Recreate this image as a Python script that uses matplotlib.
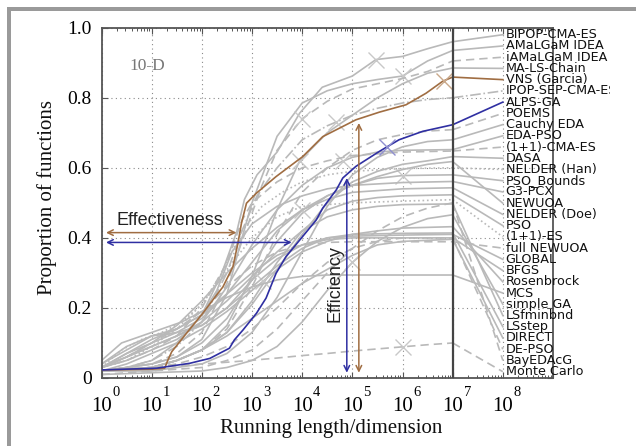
import numpy as np
import matplotlib
matplotlib.use("Agg")
import matplotlib.pyplot as plt
import matplotlib.transforms as mtransforms
from matplotlib.patches import Rectangle
from matplotlib.ticker import FixedLocator, NullFormatter

# ---------------- data (x given as log10 of running length / dimension) ----------------
bipop_x = [0, 0.5, 1.0, 1.5, 2.0, 2.4, 2.7, 2.85, 3.1, 3.5, 3.95, 4.4, 5.0, 5.47, 6.0, 6.5, 7.0]
bipop_y = [0.02, 0.03, 0.05, 0.10, 0.18, 0.30, 0.42, 0.51, 0.58, 0.645, 0.756, 0.83, 0.862, 0.909, 0.918, 0.94, 0.96]
amalgam_x = [0, 0.5, 1, 1.5, 2, 2.5, 2.8, 3.0, 3.5, 4.0, 4.5, 5.0, 5.5, 6.0, 6.5, 7.0]
amalgam_y = [0.02, 0.03, 0.04, 0.06, 0.11, 0.24, 0.40, 0.50, 0.69, 0.785, 0.82, 0.84, 0.852, 0.862, 0.905, 0.935]
iamalgam_x = [0, 0.5, 1, 1.5, 2, 2.5, 2.9, 3.2, 3.5, 4.0, 4.5, 5.0, 5.5, 6.0, 6.5, 7.0]
iamalgam_y = [0.02, 0.03, 0.04, 0.07, 0.13, 0.27, 0.43, 0.55, 0.65, 0.74, 0.79, 0.825, 0.84, 0.855, 0.875, 0.905]
malschain_x = [0, 1, 1.5, 2, 2.5, 3.0, 3.5, 3.95, 4.5, 5.0, 5.5, 6.0, 6.5, 7.0]
malschain_y = [0.02, 0.03, 0.05, 0.08, 0.15, 0.29, 0.48, 0.62, 0.70, 0.75, 0.80, 0.84, 0.87, 0.885]
vns_x = [0, 1.0, 1.26, 1.32, 1.40, 1.69, 2.02, 2.22, 2.42, 2.62, 2.72, 2.79, 2.89, 3.09, 3.48, 4.01, 4.41, 5.07, 5.54, 6.07, 6.47, 6.80, 7.0]
vns_y = [0.023, 0.025, 0.028, 0.05, 0.075, 0.127, 0.185, 0.223, 0.26, 0.318, 0.385, 0.442, 0.499, 0.528, 0.575, 0.632, 0.689, 0.737, 0.759, 0.78, 0.813, 0.847, 0.859]
ipopsep_x = [0, 0.5, 1, 1.5, 2, 2.5, 2.8, 3.1, 3.5, 4, 4.5, 5, 5.5, 6, 6.5, 7]
ipopsep_y = [0.02, 0.03, 0.05, 0.09, 0.16, 0.30, 0.42, 0.52, 0.60, 0.68, 0.72, 0.75, 0.77, 0.785, 0.795, 0.80]
alps_x = [0, 1.10, 1.76, 2.16, 2.55, 2.65, 2.82, 3.09, 3.28, 3.48, 3.68, 4.01, 4.28, 4.41, 4.68, 4.81, 5.07, 5.54, 5.93, 6.40, 7.0]
alps_y = [0.023, 0.028, 0.042, 0.056, 0.085, 0.109, 0.137, 0.185, 0.228, 0.299, 0.347, 0.404, 0.451, 0.485, 0.537, 0.571, 0.604, 0.647, 0.68, 0.704, 0.723]
poems_x = [0, 1, 1.5, 2, 2.5, 3, 3.5, 4, 4.5, 5, 5.5, 6, 6.5, 7]
poems_y = [0.02, 0.03, 0.05, 0.08, 0.14, 0.26, 0.41, 0.53, 0.60, 0.65, 0.68, 0.695, 0.705, 0.709]
cauchy_x = [0, 1, 2, 2.5, 3, 3.5, 4, 4.5, 5, 5.5, 6, 6.5, 7]
cauchy_y = [0.02, 0.02, 0.04, 0.07, 0.13, 0.23, 0.36, 0.49, 0.58, 0.63, 0.66, 0.675, 0.68]
edapso_x = [0, 0.5, 1, 1.5, 2, 2.5, 3, 3.5, 4, 4.5, 5, 5.5, 6, 7]
edapso_y = [0.03, 0.05, 0.08, 0.11, 0.16, 0.26, 0.38, 0.48, 0.55, 0.60, 0.63, 0.645, 0.65, 0.652]
cma11_x = [0, 0.5, 1, 1.5, 2, 2.5, 2.8, 3.0, 3.5, 4, 4.5, 5, 6, 7]
cma11_y = [0.03, 0.05, 0.08, 0.12, 0.20, 0.33, 0.45, 0.50, 0.56, 0.60, 0.62, 0.635, 0.645, 0.648]
dasa_x = [0, 1, 1.5, 2, 2.5, 3, 3.5, 4, 4.5, 5, 5.5, 6, 6.5, 7]
dasa_y = [0.02, 0.03, 0.05, 0.08, 0.13, 0.21, 0.31, 0.41, 0.50, 0.56, 0.59, 0.61, 0.62, 0.632]
nelderhan_x = [0, 0.4, 0.8, 1.2, 1.6, 2.0, 2.4, 2.8, 3.2, 3.6, 4.0, 4.5, 5, 6, 7]
nelderhan_y = [0.03, 0.08, 0.11, 0.13, 0.16, 0.21, 0.30, 0.42, 0.49, 0.53, 0.56, 0.58, 0.59, 0.598, 0.60]
psobounds_x = [0, 1, 1.5, 2, 2.5, 3, 3.5, 4, 4.5, 5, 5.5, 6, 7]
psobounds_y = [0.02, 0.04, 0.06, 0.10, 0.17, 0.28, 0.39, 0.47, 0.52, 0.55, 0.57, 0.578, 0.58]
g3pcx_x = [0, 0.5, 1, 1.5, 2, 2.3, 2.6, 3, 3.5, 4, 4.5, 5, 6, 7]
g3pcx_y = [0.04, 0.09, 0.12, 0.14, 0.18, 0.25, 0.36, 0.44, 0.49, 0.52, 0.54, 0.55, 0.558, 0.561]
newuoa_x = [0, 0.5, 1, 1.5, 2, 2.5, 3, 3.5, 4, 4.5, 5, 5.5, 6, 6.5, 7]
newuoa_y = [0.03, 0.06, 0.10, 0.15, 0.22, 0.30, 0.37, 0.43, 0.48, 0.52, 0.55, 0.575, 0.595, 0.61, 0.618]
nelderdoe_x = [0, 0.5, 1, 1.5, 2, 2.5, 3, 3.5, 4, 4.5, 5, 6, 7]
nelderdoe_y = [0.03, 0.07, 0.10, 0.13, 0.17, 0.24, 0.33, 0.42, 0.48, 0.51, 0.53, 0.54, 0.543]
pso_x = [0, 1, 1.5, 2, 2.5, 3, 3.5, 4, 4.5, 5, 5.5, 6, 7]
pso_y = [0.02, 0.03, 0.05, 0.08, 0.13, 0.22, 0.33, 0.42, 0.48, 0.505, 0.515, 0.52, 0.523]
es11_x = [0, 0.5, 1, 1.5, 2, 2.5, 3, 3.5, 4, 5, 6, 7]
es11_y = [0.03, 0.05, 0.09, 0.14, 0.21, 0.31, 0.40, 0.46, 0.49, 0.50, 0.505, 0.509]
fullnewuoa_x = [0, 0.5, 1, 1.5, 2, 2.5, 3, 3.5, 4, 4.5, 5, 7]
fullnewuoa_y = [0.03, 0.06, 0.10, 0.14, 0.19, 0.26, 0.32, 0.36, 0.38, 0.387, 0.389, 0.389]
global_x = [0, 0.5, 1, 1.5, 2, 2.5, 3, 3.5, 4, 4.5, 5, 6, 7]
global_y = [0.04, 0.08, 0.12, 0.13, 0.15, 0.20, 0.28, 0.34, 0.38, 0.40, 0.405, 0.408, 0.41]
bfgs_x = [0, 0.5, 1, 1.5, 2, 2.5, 3, 3.5, 4, 4.5, 5, 7]
bfgs_y = [0.03, 0.07, 0.11, 0.14, 0.18, 0.24, 0.30, 0.35, 0.38, 0.395, 0.40, 0.40]
rosen_x = [0, 0.5, 1, 1.5, 2, 2.5, 3, 3.5, 4, 4.5, 5, 5.5, 6, 7]
rosen_y = [0.02, 0.04, 0.07, 0.10, 0.14, 0.19, 0.25, 0.31, 0.36, 0.39, 0.41, 0.42, 0.428, 0.432]
mcs_x = [0, 0.4, 0.8, 1.2, 1.6, 2, 2.5, 3, 3.5, 4, 4.5, 7]
mcs_y = [0.05, 0.10, 0.12, 0.14, 0.16, 0.19, 0.23, 0.26, 0.28, 0.29, 0.294, 0.294]
simplega_x = [0, 1, 2, 2.5, 3, 3.5, 4, 4.5, 5, 5.5, 6, 6.5, 7]
simplega_y = [0.01, 0.015, 0.02, 0.03, 0.05, 0.09, 0.16, 0.25, 0.33, 0.39, 0.43, 0.455, 0.466]
lsfmin_x = [0, 0.5, 1, 1.5, 2, 2.5, 3, 3.5, 4, 4.5, 5, 5.5, 6, 7]
lsfmin_y = [0.03, 0.06, 0.09, 0.12, 0.16, 0.22, 0.29, 0.36, 0.42, 0.46, 0.48, 0.49, 0.495, 0.497]
lsstep_x = [0, 0.5, 1, 1.5, 2, 2.5, 3, 3.5, 4, 4.5, 5, 6, 7]
lsstep_y = [0.03, 0.06, 0.09, 0.12, 0.15, 0.20, 0.26, 0.32, 0.37, 0.40, 0.41, 0.413, 0.414]
direct_x = [0, 1, 1.5, 2, 2.5, 3, 3.5, 4, 4.5, 5, 5.5, 6, 7]
direct_y = [0.02, 0.03, 0.05, 0.08, 0.12, 0.17, 0.22, 0.27, 0.31, 0.35, 0.38, 0.39, 0.396]
depso_x = [0, 1, 1.5, 2, 2.5, 3, 3.5, 4, 4.5, 5, 5.5, 6, 6.5, 7]
depso_y = [0.02, 0.03, 0.04, 0.06, 0.09, 0.14, 0.20, 0.27, 0.33, 0.37, 0.39, 0.40, 0.40, 0.40]
bayeda_x = [0, 1, 2, 2.5, 3, 3.5, 4, 4.5, 5, 5.5, 6, 6.5, 7]
bayeda_y = [0.01, 0.02, 0.03, 0.05, 0.08, 0.14, 0.22, 0.30, 0.37, 0.42, 0.46, 0.485, 0.50]
montecarlo_x = [0, 1, 2, 2.5, 2.95, 3.5, 4, 4.5, 5, 5.5, 6, 6.5, 7]
montecarlo_y = [0.02, 0.03, 0.04, 0.045, 0.05, 0.057, 0.064, 0.07, 0.077, 0.083, 0.089, 0.095, 0.10]

ALGORITHMS = ["BIPOP-CMA-ES", "AMaLGaM IDEA", "iAMaLGaM IDEA", "MA-LS-Chain", "VNS (Garcia)",
              "IPOP-SEP-CMA-ES", "ALPS-GA", "POEMS", "Cauchy EDA", "EDA-PSO", "(1+1)-CMA-ES",
              "DASA", "NELDER (Han)", "PSO_Bounds", "G3-PCX", "NEWUOA", "NELDER (Doe)", "PSO",
              "(1+1)-ES", "full NEWUOA", "GLOBAL", "BFGS", "Rosenbrock", "MCS", "simple GA",
              "LSfminbnd", "LSstep", "DIRECT", "DE-PSO", "BayEDAcG", "Monte Carlo"]
CURVES_X = [bipop_x, amalgam_x, iamalgam_x, malschain_x, vns_x, ipopsep_x, alps_x, poems_x,
            cauchy_x, edapso_x, cma11_x, dasa_x, nelderhan_x, psobounds_x, g3pcx_x, newuoa_x,
            nelderdoe_x, pso_x, es11_x, fullnewuoa_x, global_x, bfgs_x, rosen_x, mcs_x,
            simplega_x, lsfmin_x, lsstep_x, direct_x, depso_x, bayeda_x, montecarlo_x]
CURVES_Y = [bipop_y, amalgam_y, iamalgam_y, malschain_y, vns_y, ipopsep_y, alps_y, poems_y,
            cauchy_y, edapso_y, cma11_y, dasa_y, nelderhan_y, psobounds_y, g3pcx_y, newuoa_y,
            nelderdoe_y, pso_y, es11_y, fullnewuoa_y, global_y, bfgs_y, rosen_y, mcs_y,
            simplega_y, lsfmin_y, lsstep_y, direct_y, depso_y, bayeda_y, montecarlo_y]
# x (log10) of the cross marker on each curve (None = no marker)
MARKER_X = [5.47, 6.0, 4.0, 3.95, 6.83, 4.68, 5.70, None, None, 4.81, None, None, None, 6.0,
            None, 4.0, None, None, None, None, None, None, 3.22, None, 5.0, None, None, None,
            None, None, 6.0]
STYLES = ["-", "-", "--", "-", "-", "-.", "-", "--", "-", "-", "--", "-", ":", "-", "-", "-",
          "-", "-", ":", "--", "-", "-", "-", "-", "-", "-", "-", "-", "--", "--", "--"]
HIGHLIGHT = {"VNS (Garcia)": "#a06d42", "ALPS-GA": "#2f2fa2"}

LABEL_TOP, LABEL_BOTTOM = 0.98, 0.018
BUDGET_LOG = 7.0
XTICK_EXP = [0, 1, 2, 3, 4, 5, 6, 7, 8]
YTICKS = [0, 0.2, 0.4, 0.6, 0.8, 1.0]
YTICK_LABELS = ["0", "0.2", "0.4", "0.6", "0.8", "1.0"]

# annotation arrows (log10 x, y)
EFFECT_BROWN = (0.09, 2.69, 0.415)
EFFECT_BLUE = (0.09, 3.79, 0.387)
EFFIC_BLUE = (4.89, 0.015, 0.571)
EFFIC_BROWN = (5.13, 0.015, 0.728)

# ---------------- figure ----------------
W, H = 636, 446
fig = plt.figure(figsize=(W / 100, H / 100), dpi=100)
fig.patch.set_facecolor("white")
ax = fig.add_axes([101.5 / W, 68 / H, (553 - 101.5) / W, (378 - 27.7) / H])
ax.set_xscale("log")
ax.set_xlim(1, 1e9)
ax.set_ylim(0, 1)

SERIF = "Liberation Serif"
GREY = "#b9b9b9"
SPINE = "#555555"

ax.grid(True, which="major", linestyle=(0, (1, 3)), color="#8a8a8a", lw=0.8)
ax.set_axisbelow(True)

n = len(ALGORITHMS)
label_y = [LABEL_TOP - i * (LABEL_TOP - LABEL_BOTTOM) / (n - 1) for i in range(n)]
label_x_log = 8.0

order = [i for i in range(n) if ALGORITHMS[i] not in HIGHLIGHT] + \
        [i for i in range(n) if ALGORITHMS[i] in HIGHLIGHT]
for i in order:
    name = ALGORITHMS[i]
    col = HIGHLIGHT.get(name, GREY)
    lw = 1.2
    z = 3 if name in HIGHLIGHT else 2
    xs = 10 ** np.array(CURVES_X[i], dtype=float)
    ys = np.array(CURVES_Y[i], dtype=float)
    ls = STYLES[i]
    if ls == "--":
        ls = (0, (5, 3))
    ax.plot(xs, ys, color=col, lw=lw, ls=ls, zorder=z)
    ax.plot([10 ** BUDGET_LOG, 10 ** label_x_log], [ys[-1], label_y[i]], color=col, lw=lw, ls=ls, zorder=z)
    if MARKER_X[i] is not None:
        my = np.interp(MARKER_X[i], CURVES_X[i], CURVES_Y[i])
        mcol = {"VNS (Garcia)": "#c9a88a", "ALPS-GA": "#8f8fd0"}.get(name, "#c8c8c8")
        ax.plot([10 ** MARKER_X[i]], [my], marker="x", ms=11, mew=1.0, color=mcol, zorder=z)

ax.axvline(10 ** BUDGET_LOG, color="#444444", lw=1.6, zorder=4)

# labels on the right (clipped at the original figure edge)
clipbox = mtransforms.TransformedBbox(mtransforms.Bbox([[0, 0], [610 / W, 1]]), fig.transFigure)
for i, name in enumerate(ALGORITHMS):
    t = ax.text(10 ** 8.055, label_y[i], name, ha="left", va="center", fontsize=9.2,
                family="DejaVu Sans", color="#111111", clip_on=True, zorder=5)
    t.set_clip_box(clipbox)

# ticks
ax.xaxis.set_major_locator(FixedLocator([10.0 ** k for k in range(10)]))
ax.xaxis.set_minor_locator(FixedLocator([m * 10.0 ** k for k in range(9) for m in range(2, 10)]))
ax.xaxis.set_major_formatter(NullFormatter())
ax.xaxis.set_minor_formatter(NullFormatter())
ax.set_yticks(YTICKS)
ax.set_yticklabels(YTICK_LABELS, fontsize=14, family=SERIF)
ax.tick_params(which="both", direction="in", top=True, right=True, color=SPINE)
ax.tick_params(which="major", length=4.5, width=0.8)
ax.tick_params(which="minor", length=2.5, width=0.7)
ax.tick_params(axis="y", pad=7)
for s in ax.spines.values():
    s.set_color(SPINE)
    s.set_linewidth(1.3)

trans = mtransforms.blended_transform_factory(ax.transData, ax.transAxes)
sup_trans = mtransforms.offset_copy(trans, fig=fig, x=14.5, y=0, units="dots")
for k in XTICK_EXP:
    ax.text(10.0 ** k, -0.082, "10", ha="center", va="center", fontsize=15, family=SERIF,
            transform=trans, clip_on=False)
    ax.text(10.0 ** k, -0.041, str(k), ha="center", va="center", fontsize=10.5, family=SERIF,
            transform=sup_trans, clip_on=False)

fig.text(47 / W, 1 - 197.5 / H, "Proportion of functions", rotation=90, ha="center", va="center",
         fontsize=15, family=SERIF, color="#111111")
fig.text(331 / W, 1 - 429 / H, "Running length/dimension", ha="center", va="center",
         fontsize=15, family=SERIF, color="#111111")
ax.text(10 ** 0.55, 0.89, "10-D", ha="left", va="center", fontsize=12.5, family=SERIF, color="#777777")

# annotations
brown = HIGHLIGHT["VNS (Garcia)"]
blue = HIGHLIGHT["ALPS-GA"]
ap = dict(arrowstyle="<->", lw=1.1, shrinkA=0, shrinkB=0, mutation_scale=10)
ax.annotate("", xy=(10 ** EFFECT_BROWN[0], EFFECT_BROWN[2]), xytext=(10 ** EFFECT_BROWN[1], EFFECT_BROWN[2]),
            arrowprops=dict(ap, color=brown), zorder=6)
ax.annotate("", xy=(10 ** EFFECT_BLUE[0], EFFECT_BLUE[2]), xytext=(10 ** EFFECT_BLUE[1], EFFECT_BLUE[2]),
            arrowprops=dict(ap, color=blue), zorder=6)
ax.annotate("", xy=(10 ** EFFIC_BLUE[0], EFFIC_BLUE[1]), xytext=(10 ** EFFIC_BLUE[0], EFFIC_BLUE[2]),
            arrowprops=dict(ap, color=blue), zorder=6)
ax.annotate("", xy=(10 ** EFFIC_BROWN[0], EFFIC_BROWN[1]), xytext=(10 ** EFFIC_BROWN[0], EFFIC_BROWN[2]),
            arrowprops=dict(ap, color=brown), zorder=6)
ax.text(10 ** 0.29, 0.45, "Effectiveness", ha="left", va="center", fontsize=13,
        family="Liberation Sans", color="#222222", zorder=6)
ax.text(10 ** 4.65, 0.269, "Efficiency", ha="center", va="center", rotation=90, fontsize=13,
        family="Liberation Sans", color="#222222", zorder=6)

# grey frame of the original screenshot
fig.add_artist(Rectangle((7 / W, (H - 11) / H), 1 - 7 / W, 4 / H, transform=fig.transFigure,
                         color="#9a9a9a", lw=0))
fig.add_artist(Rectangle((7 / W, 0), 4 / W, (H - 7) / H, transform=fig.transFigure,
                         color="#9a9a9a", lw=0))

fig.savefig("out.png", dpi=100)
